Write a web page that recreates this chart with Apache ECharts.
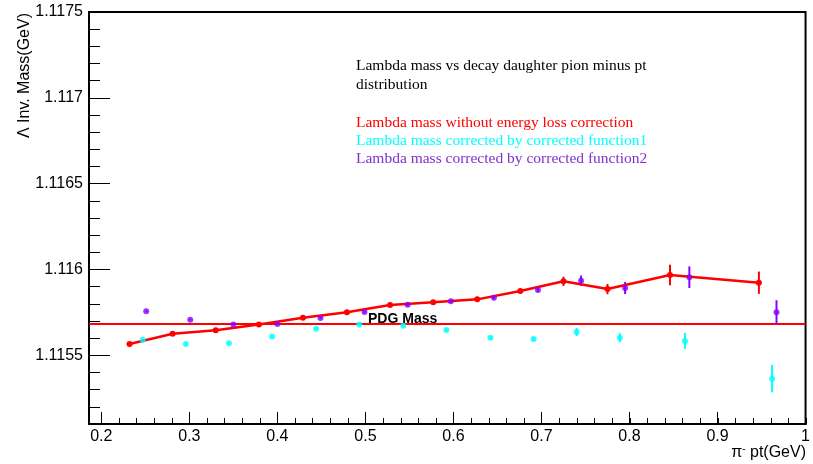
<!DOCTYPE html>
<html>
<head>
<meta charset="utf-8">
<script src="https://cdn.jsdelivr.net/npm/echarts@6/dist/echarts.min.js"></script>
<style>
  html, body { margin: 0; padding: 0; background: #fff; }
  #chart { width: 813px; height: 464px; }
</style>
</head>
<body>
<div id="chart"></div>
<script>
// Lambda invariant mass per pi- pt bin
const redX = [0.232, 0.281, 0.330, 0.379, 0.429, 0.479, 0.528, 0.577, 0.627, 0.676, 0.725, 0.775, 0.846, 0.947];
const redY = [1.115566, 1.115626, 1.115646, 1.115679, 1.115719, 1.115751, 1.115793, 1.115809, 1.115826, 1.115875, 1.115931, 1.115886, 1.115968, 1.115923];
const redErr = [0.000004, 0.000004, 0.000004, 0.000005, 0.000005, 0.000006, 0.000007, 0.000008, 0.000009, 0.000011, 0.000027, 0.00003, 0.00006, 0.000065];

const cyanX = [0.247, 0.296, 0.345, 0.394, 0.444, 0.493, 0.543, 0.592, 0.642, 0.691, 0.740, 0.789, 0.863, 0.962];
const cyanY = [1.115591, 1.115566, 1.115570, 1.115609, 1.115655, 1.115679, 1.115673, 1.115648, 1.115603, 1.115595, 1.115636, 1.115603, 1.115584, 1.115364];
const cyanErr = [0.000004, 0.000004, 0.000004, 0.000005, 0.000005, 0.000006, 0.000007, 0.000008, 0.000009, 0.000011, 0.000023, 0.000026, 0.000047, 0.00008];

const purpleX = [0.251, 0.301, 0.350, 0.400, 0.449, 0.499, 0.548, 0.597, 0.646, 0.696, 0.745, 0.795, 0.868, 0.967];
const purpleY = [1.115757, 1.115708, 1.115679, 1.115683, 1.115718, 1.115753, 1.115795, 1.115815, 1.115836, 1.115881, 1.115935, 1.115892, 1.115955, 1.115751];
const purpleErr = [0.000004, 0.000004, 0.000004, 0.000005, 0.000005, 0.000006, 0.000007, 0.000008, 0.000009, 0.000011, 0.00003, 0.000035, 0.000063, 0.00007];

const pdgMass = 1.115683;

// axis ranges and ticks
const xRange = [0.186, 1.0];
const yRange = [1.1151, 1.1175];
const xTicks = [0.2, 0.3, 0.4, 0.5, 0.6, 0.7, 0.8, 0.9, 1.0];
const xTickLabels = ['0.2', '0.3', '0.4', '0.5', '0.6', '0.7', '0.8', '0.9', '1'];
const yTicks = [1.1155, 1.116, 1.1165, 1.117, 1.1175];
const yTickLabels = ['1.1155', '1.116', '1.1165', '1.117', '1.1175'];

const xMinorStep = 0.02;
const yMinorStep = 0.0001;

function minorTicks(range, step) {
  const out = [];
  const start = Math.ceil(range[0] / step - 1e-6);
  const end = Math.floor(range[1] / step + 1e-6);
  for (let i = start; i <= end; i++) out.push(+(i * step).toFixed(6));
  return out;
}

function nearestLabel(v, ticks, labels) {
  let best = 0;
  for (let i = 1; i < ticks.length; i++) {
    if (Math.abs(ticks[i] - v) < Math.abs(ticks[best] - v)) best = i;
  }
  return labels[best];
}

const COLORS = { red: '#ff0000', cyan: '#00ffff', purple: '#8800ff', purpleText: '#8030d0' };
const SANS = 'Liberation Sans';
const SERIF = 'Liberation Serif';

function pairs(xs, ys) { return xs.map((x, i) => [x, ys[i]]); }
function errData(xs, ys, es) { return xs.map((x, i) => [x, ys[i], es[i]]); }

function errorBarSeries(name, xs, ys, es, color) {
  return {
    name: name,
    type: 'custom',
    xAxisIndex: 0, yAxisIndex: 0,
    data: errData(xs, ys, es),
    z: 3,
    renderItem: function (params, api) {
      const x = api.value(0), y = api.value(1), e = api.value(2);
      const lo = api.coord([x, y - e]);
      const hi = api.coord([x, y + e]);
      return {
        type: 'line',
        shape: { x1: lo[0], y1: lo[1], x2: hi[0], y2: hi[1] },
        style: { stroke: color, lineWidth: 2 }
      };
    }
  };
}

const gridBox = { left: 89, right: 7, top: 12, bottom: 40 };

const chart = echarts.init(document.getElementById('chart'), null, { renderer: 'canvas' });

chart.setOption({
  animation: false,
  backgroundColor: '#fff',
  grid: [
    Object.assign({ show: true, borderColor: '#000', borderWidth: 2, backgroundColor: 'transparent' }, gridBox),
    Object.assign({ show: false }, gridBox)
  ],
  xAxis: [
    {
      type: 'value', gridIndex: 0, min: xRange[0], max: xRange[1],
      splitLine: { show: false },
      axisLine: { show: true, onZero: false, lineStyle: { color: '#000', width: 2 } },
      axisTick: { show: true, inside: true, length: 12, customValues: xTicks, lineStyle: { color: '#000', width: 1 } },
      axisLabel: {
        show: true, customValues: xTicks, margin: 5,
        fontFamily: SANS, fontSize: 16, color: '#000',
        formatter: v => nearestLabel(v, xTicks, xTickLabels)
      }
    },
    {
      type: 'value', gridIndex: 1, min: xRange[0], max: xRange[1],
      splitLine: { show: false },
      axisLine: { show: false, onZero: false },
      axisTick: { show: true, inside: true, length: 6, customValues: minorTicks(xRange, xMinorStep), lineStyle: { color: '#000', width: 1 } },
      axisLabel: { show: false }
    }
  ],
  yAxis: [
    {
      type: 'value', gridIndex: 0, min: yRange[0], max: yRange[1],
      splitLine: { show: false },
      axisLine: { show: true, onZero: false, lineStyle: { color: '#000', width: 2 } },
      axisTick: { show: true, inside: true, length: 21, customValues: yTicks, lineStyle: { color: '#000', width: 1 } },
      axisLabel: {
        show: true, customValues: yTicks, margin: 6,
        fontFamily: SANS, fontSize: 16, color: '#000',
        formatter: v => nearestLabel(v, yTicks, yTickLabels)
      }
    },
    {
      type: 'value', gridIndex: 1, min: yRange[0], max: yRange[1],
      splitLine: { show: false },
      axisLine: { show: false, onZero: false },
      axisTick: { show: true, inside: true, length: 11, customValues: minorTicks(yRange, yMinorStep), lineStyle: { color: '#000', width: 1 } },
      axisLabel: { show: false }
    }
  ],
  series: [
    {
      name: 'PDG Mass',
      type: 'line', xAxisIndex: 0, yAxisIndex: 0,
      data: [[xRange[0], pdgMass], [xRange[1], pdgMass]],
      symbol: 'none',
      lineStyle: { color: COLORS.red, width: 2 },
      z: 1,
      silent: true
    },
    {
      name: 'Lambda mass without energy loss correction',
      type: 'line', xAxisIndex: 0, yAxisIndex: 0,
      data: pairs(redX, redY),
      symbol: 'circle', symbolSize: 6,
      itemStyle: { color: COLORS.red },
      lineStyle: { color: COLORS.red, width: 2.5 },
      z: 4
    },
    errorBarSeries('red err', redX, redY, redErr, COLORS.red),
    {
      name: 'Lambda mass corrected by corrected function1',
      type: 'scatter', xAxisIndex: 0, yAxisIndex: 0,
      data: pairs(cyanX, cyanY),
      symbol: 'circle', symbolSize: 6,
      itemStyle: { color: COLORS.cyan },
      z: 4
    },
    errorBarSeries('cyan err', cyanX, cyanY, cyanErr, COLORS.cyan),
    {
      name: 'Lambda mass corrected by corrected function2',
      type: 'scatter', xAxisIndex: 0, yAxisIndex: 0,
      data: pairs(purpleX, purpleY),
      symbol: 'circle', symbolSize: 6,
      itemStyle: { color: COLORS.purple },
      z: 4
    },
    errorBarSeries('purple err', purpleX, purpleY, purpleErr, COLORS.purple)
  ],
  graphic: [
    {
      type: 'text', left: 17, top: 13, rotation: Math.PI / 2,
      originX: 0, originY: 0,
      style: { text: 'Λ Inv. Mass(GeV)', font: '16px "' + SANS + '"', fill: '#000', textAlign: 'right', textVerticalAlign: 'top' }
    },
    {
      type: 'text', right: 7, top: 444,
      style: {
        text: '{p|π}{s|-}{p| pt(GeV)}',
        rich: {
          p: { fontFamily: SANS, fontSize: 16, fill: '#000' },
          s: { fontFamily: SANS, fontSize: 10, fill: '#000', verticalAlign: 'top', padding: [0, 0, 8, 0] }
        }
      }
    },
    {
      type: 'text', left: 368, top: 312,
      style: { text: 'PDG Mass', font: 'bold 14px "' + SANS + '"', fill: '#000' },
      z: 10
    },
    {
      type: 'text', left: 356, top: 56,
      style: { text: 'Lambda mass vs decay daughter pion minus pt\ndistribution', font: '15.5px "' + SERIF + '"', fill: '#000', lineHeight: 19 }
    },
    {
      type: 'text', left: 356, top: 115,
      style: { text: 'Lambda mass without energy loss correction', font: '15.5px "' + SERIF + '"', fill: COLORS.red }
    },
    {
      type: 'text', left: 356, top: 133,
      style: { text: 'Lambda mass corrected by corrected function1', font: '15.5px "' + SERIF + '"', fill: COLORS.cyan }
    },
    {
      type: 'text', left: 356, top: 151,
      style: { text: 'Lambda mass corrected by corrected function2', font: '15.5px "' + SERIF + '"', fill: COLORS.purpleText }
    }
  ]
});
</script>
</body>
</html>
